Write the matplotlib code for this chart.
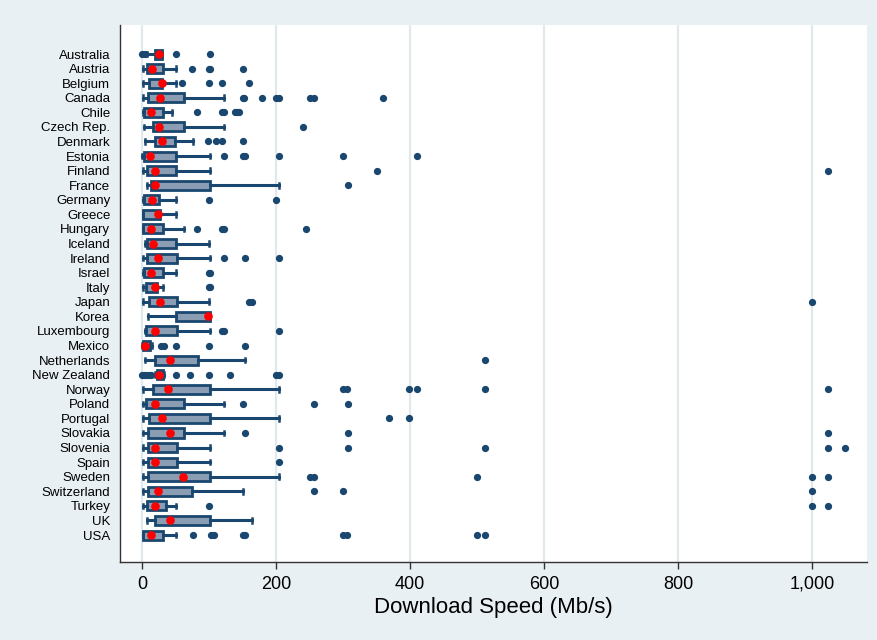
import matplotlib.pyplot as plt
from matplotlib.ticker import FuncFormatter

plt.rcParams['font.family'] = ['Liberation Sans', 'DejaVu Sans']

countries = ["Australia", "Austria", "Belgium", "Canada", "Chile", "Czech Rep.",
             "Denmark", "Estonia", "Finland", "France", "Germany", "Greece",
             "Hungary", "Iceland", "Ireland", "Israel", "Italy", "Japan", "Korea",
             "Luxembourg", "Mexico", "Netherlands", "New Zealand", "Norway",
             "Poland", "Portugal", "Slovakia", "Slovenia", "Spain", "Sweden",
             "Switzerland", "Turkey", "UK", "USA"]

whisk_lo = [7, 2, 1, 1, 1, 3, 4, 0, 2, 7, 1, 1, 1, 5, 1, 1, 1, 1, 9, 5, 0, 4,
            20, 2, 1, 1, 1, 1, 1, 1, 1, 1, 7, 1]
q1 = [19, 7, 11, 9, 3, 16, 19, 3, 7, 14, 3, 2, 2, 7, 7, 3, 6, 10, 50, 6, 1, 19,
      22, 16, 6, 10, 9, 9, 9, 9, 9, 7, 19, 1]
q3 = [30, 31, 30, 62, 31, 62, 49, 51, 50, 102, 25, 27, 31, 51, 52, 31, 22, 52,
      102, 52, 12, 83, 31, 101, 62, 102, 62, 52, 52, 102, 75, 36, 102, 31]
whisk_hi = [30, 50, 50, 123, 45, 123, 76, 101, 101, 205, 50, 50, 62, 100, 102,
            50, 31, 100, 102, 102, 15, 154, 32, 205, 123, 205, 123, 101, 101,
            205, 150, 50, 164, 50]
median = [25, 15, 30, 26, 14, 25, 30, 12, 19, 20, 15, 24, 14, 16, 24, 14, 19,
          26, 99, 19, 5, 41, 25, 39, 19, 30, 41, 19, 19, 61, 24, 19, 41, 14]
outliers = [
    [0, 4, 51, 101],
    [75, 100, 101, 150],
    [60, 100, 119, 159],
    [151, 152, 179, 200, 205, 250, 256, 359],
    [82, 120, 122, 138, 142, 145],
    [240],
    [99, 110, 120, 150],
    [122, 150, 153, 205, 300, 410],
    [350, 1024],
    [307],
    [100, 200],
    [],
    [82, 120, 123, 245],
    [],
    [122, 153, 205],
    [100, 101],
    [100, 101],
    [160, 164, 1000],
    [],
    [120, 122, 204],
    [28, 32, 50, 100, 153],
    [512],
    [0, 3, 6, 10, 14, 50, 72, 100, 131, 200, 204],
    [300, 306, 399, 410, 512, 1024],
    [150, 256, 307],
    [368, 399],
    [153, 307, 1024],
    [205, 307, 512, 1024, 1049],
    [205],
    [250, 256, 500, 1000, 1024],
    [256, 300, 1000],
    [100, 1000, 1024],
    [],
    [76, 103, 107, 150, 153, 300, 306, 500, 512],
]

navy = "#1a476f"
stats = []
for i in range(len(countries)):
    stats.append(dict(med=median[i], mean=median[i], q1=q1[i], q3=q3[i],
                      whislo=whisk_lo[i], whishi=whisk_hi[i], fliers=outliers[i]))

fig = plt.figure(figsize=(8.77, 6.4), dpi=100, facecolor="#e9f0f3")
ax = fig.add_axes([0.1368, 0.1219, 0.8518, 0.839])

ax.bxp(stats, positions=range(len(countries)), widths=0.62,
       orientation="horizontal", patch_artist=True, showmeans=True,
       capwidths=0.32,
       boxprops=dict(facecolor="#8b9db2", edgecolor=navy, linewidth=2),
       whiskerprops=dict(color=navy, linewidth=2.2),
       capprops=dict(color=navy, linewidth=1.8),
       medianprops=dict(linewidth=0),
       meanprops=dict(marker="o", markerfacecolor="red", markeredgecolor="red",
                      markersize=5.2),
       flierprops=dict(marker="o", markerfacecolor=navy, markeredgecolor=navy,
                       markersize=4.2))

ax.set_xlim(-33, 1082)
ax.set_ylim(33 + 1.85, -1.99)
ax.set_yticks(range(len(countries)))
ax.set_yticklabels(countries, fontsize=9.5)
ax.set_xticks([0, 200, 400, 600, 800, 1000])
ax.xaxis.set_major_formatter(FuncFormatter(lambda v, p: f"{v:,.0f}"))
ax.tick_params(axis="x", labelsize=13, length=5, width=1, color="#333333", pad=5)
ax.tick_params(axis="y", length=0, pad=7)
ax.xaxis.grid(True, color="#e2e9ec", linewidth=1.6)
ax.set_axisbelow(True)
for s in ["top", "right"]:
    ax.spines[s].set_visible(False)
for s in ["left", "bottom"]:
    ax.spines[s].set_color("#333333")
    ax.spines[s].set_linewidth(1)
ax.set_xlabel("Download Speed (Mb/s)", fontsize=16, labelpad=3)

fig.savefig("out.png", dpi=100, facecolor=fig.get_facecolor())
